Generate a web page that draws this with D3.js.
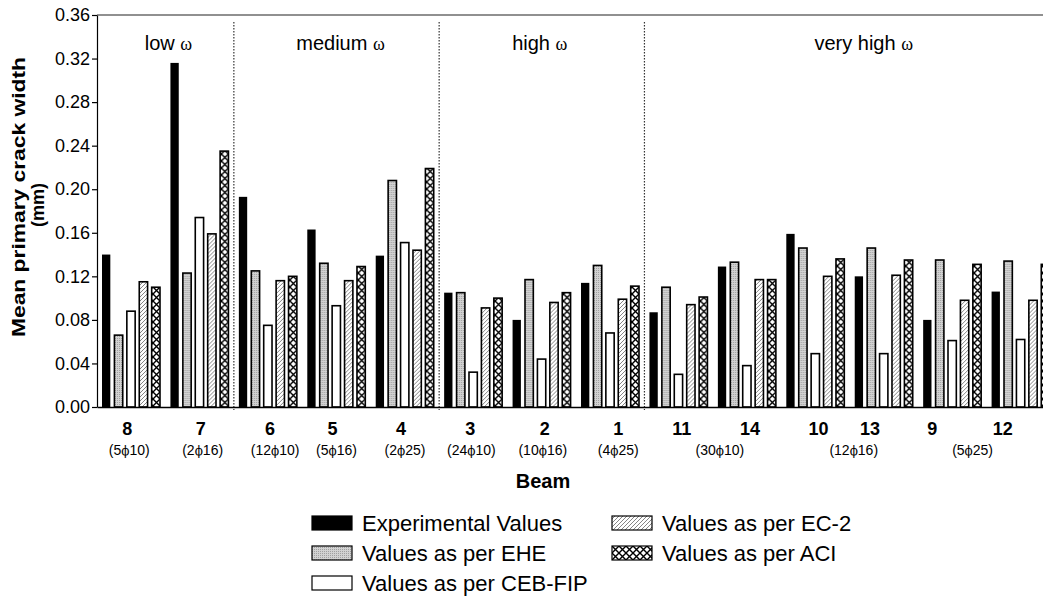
<!DOCTYPE html>
<html>
<head>
<meta charset="utf-8">
<script src="https://cdn.jsdelivr.net/npm/d3@7"></script>
<style>
  body { margin: 0; background: #fff; }
  svg { display: block; font-family: "Liberation Sans", Arial, sans-serif; }
</style>
</head>
<body>
<div id="chart"></div>
<script>
// beams in the order they appear on the axis
var beams = ["8", "7", "6", "5", "4", "3", "2", "1", "11", "14", "10", "13", "9", "12"];

// mean primary crack width (mm)
var experimental = [0.140, 0.316, 0.193, 0.163, 0.139, 0.105, 0.080, 0.114, 0.087, 0.129, 0.159, 0.120, 0.080, 0.106];
var ehe          = [0.066, 0.123, 0.125, 0.132, 0.208, 0.105, 0.117, 0.130, 0.110, 0.133, 0.146, 0.146, 0.135, 0.134];
var cebfip       = [0.088, 0.174, 0.075, 0.093, 0.151, 0.032, 0.044, 0.068, 0.030, 0.038, 0.049, 0.049, 0.061, 0.062];
var ec2          = [0.115, 0.159, 0.116, 0.116, 0.144, 0.091, 0.096, 0.099, 0.094, 0.117, 0.120, 0.121, 0.098, 0.098];
var aci          = [0.110, 0.235, 0.120, 0.129, 0.219, 0.100, 0.105, 0.111, 0.101, 0.117, 0.136, 0.135, 0.131, 0.131];

var seriesNames = ["Experimental Values", "Values as per EHE", "Values as per CEB-FIP", "Values as per EC-2", "Values as per ACI"];

// reinforcement ratio groups (first/last beam index)
var omegaLabels = ["low ", "medium ", "high ", "very high "];
var omegaSpans = [[0, 1], [2, 4], [5, 7], [8, 13]];

// bar arrangement under the beam numbers
var rebarLabels = ["(5\u03D510)", "(2\u03D516)", "(12\u03D510)", "(5\u03D516)", "(2\u03D525)", "(24\u03D510)", "(10\u03D516)", "(4\u03D525)", "(30\u03D510)", "(12\u03D516)", "(5\u03D525)"];
var rebarSpans = [[0, 0], [1, 1], [2, 2], [3, 3], [4, 4], [5, 5], [6, 6], [7, 7], [8, 9], [10, 11], [12, 13]];

var yTicks = [0, 0.04, 0.08, 0.12, 0.16, 0.20, 0.24, 0.28, 0.32, 0.36];

// small nudges so the labels sit where the original puts them
var beamDx = [-2, 3, 4, -2, -2, -1, 5, 10, 5, 5, 5, -12, -18, -16];
var rebarDx = [0, 5, 9, 2, 2, 0, 3, 10, 9, 6, -12];
var omegaDx = [3, 4, -2, 14];

var W = 1043, H = 612;
var plotLeft = 97, plotTop = 15, plotBottom = 407;
var step = 68.43;

var svg = d3.select("#chart").append("svg")
    .attr("width", W).attr("height", H);

var defs = svg.append("defs");

// EC-2: thin diagonal hatch
var p1 = defs.append("pattern").attr("id", "hatch")
    .attr("patternUnits", "userSpaceOnUse").attr("width", 4).attr("height", 4);
p1.append("rect").attr("width", 4).attr("height", 4).attr("fill", "#fff");
p1.append("path").attr("d", "M-1,5 L5,-1 M-1,1 L1,-1 M3,5 L5,3")
    .attr("stroke", "#666").attr("stroke-width", 0.8);

// ACI: cross hatch
var p2 = defs.append("pattern").attr("id", "cross")
    .attr("patternUnits", "userSpaceOnUse").attr("width", 7).attr("height", 7);
p2.append("rect").attr("width", 7).attr("height", 7).attr("fill", "#fff");
p2.append("path").attr("d", "M0,0 L7,7 M7,0 L0,7")
    .attr("stroke", "#000").attr("stroke-width", 1.4);

// EHE: stippled grey
var p3 = defs.append("pattern").attr("id", "stip")
    .attr("patternUnits", "userSpaceOnUse").attr("width", 2).attr("height", 2);
p3.append("rect").attr("width", 2).attr("height", 2).attr("fill", "#d2d2d2");
p3.append("rect").attr("width", 1).attr("height", 1).attr("fill", "#a0a0a0");

var fills = ["#000", "url(#stip)", "#fff", "url(#hatch)", "url(#cross)"];

var x = d3.scaleBand()
    .domain(d3.range(beams.length))
    .range([plotLeft, plotLeft + step * beams.length])
    .padding(0);

var xs = d3.scaleBand()
    .domain(d3.range(5))
    .range([5, 63])
    .paddingInner(0.33)
    .paddingOuter(0);

var y = d3.scaleLinear().domain([0, 0.36]).range([plotBottom, plotTop]);

var table = beams.map(function (b, i) {
    return [experimental[i], ehe[i], cebfip[i], ec2[i], aci[i]].map(function (v, k) {
        return {beam: i, k: k, v: v};
    });
});

// top frame line
svg.append("line")
    .attr("x1", plotLeft).attr("x2", W).attr("y1", plotTop).attr("y2", plotTop)
    .attr("stroke", "#222").attr("stroke-width", 1.2);

// group separators
var seps = omegaSpans.slice(0, 3).map(function (s) { return s[1] + 1; });
svg.selectAll(".sep").data(seps).enter().append("line")
    .attr("class", "sep")
    .attr("x1", function (d) { return x(d); })
    .attr("x2", function (d) { return x(d); })
    .attr("y1", plotTop + 7).attr("y2", plotBottom + 3)
    .attr("stroke", "#333").attr("stroke-width", 1.2)
    .attr("stroke-dasharray", "1.5,1.5");

// bars
var g = svg.selectAll(".beam").data(table).enter().append("g")
    .attr("class", "beam")
    .attr("transform", function (d, i) { return "translate(" + x(i) + ",0)"; });

g.selectAll("rect").data(function (d) { return d; }).enter().append("rect")
    .attr("x", function (d) { return xs(d.k); })
    .attr("y", function (d) { return y(d.v); })
    .attr("width", xs.bandwidth())
    .attr("height", function (d) { return plotBottom - y(d.v); })
    .attr("fill", function (d) { return fills[d.k]; })
    .attr("stroke", "#000")
    .attr("stroke-width", function (d) { return d.k == 0 ? 0 : 1.6; });

// y axis
svg.append("g")
    .attr("transform", "translate(" + plotLeft + ",0)")
    .call(d3.axisLeft(y).tickValues(yTicks).tickFormat(d3.format(".2f"))
        .tickSize(5).tickSizeOuter(0).tickPadding(2))
    .call(function (a) {
        a.selectAll("text").attr("font-size", 18).attr("fill", "#000")
            .attr("font-family", "Liberation Sans, Arial, sans-serif");
        a.selectAll("line,path").attr("stroke", "#000").attr("stroke-width", 1.2);
    });

// x axis line
svg.append("g")
    .attr("transform", "translate(0," + plotBottom + ")")
    .call(d3.axisBottom(x).tickSize(0).tickSizeOuter(0).tickFormat(""))
    .call(function (a) {
        a.select(".domain").attr("stroke", "#000").attr("stroke-width", 1.4);
    });

// beam numbers
svg.selectAll(".blab").data(beams).enter().append("text")
    .attr("class", "blab")
    .attr("x", function (d, i) { return x(i) + x.bandwidth() / 2 - 2 + beamDx[i]; })
    .attr("y", 435)
    .attr("text-anchor", "middle")
    .attr("font-size", 18).attr("font-weight", "bold")
    .text(function (d) { return d; });

// rebar labels
var rl = svg.selectAll(".rlab").data(rebarLabels).enter().append("text")
    .attr("class", "rlab")
    .attr("x", function (d, i) {
        var s = rebarSpans[i];
        return (x(s[0]) + x(s[1]) + x.bandwidth()) / 2 - 2 + rebarDx[i];
    })
    .attr("y", 455)
    .attr("text-anchor", "middle")
    .attr("font-size", 14);
rl.each(function (d) {
    var t = d3.select(this);
    var i = d.indexOf("\u03D5");
    t.append("tspan").text(d.slice(0, i));
    t.append("tspan").attr("font-family", "DejaVu Serif, serif").attr("font-size", 12).text("\u03D5");
    t.append("tspan").text(d.slice(i + 1));
});

// omega group titles
var ol = svg.selectAll(".olab").data(omegaLabels).enter().append("text")
    .attr("class", "olab")
    .attr("x", function (d, i) {
        var s = omegaSpans[i];
        return (x(s[0]) + x(s[1]) + x.bandwidth()) / 2 + omegaDx[i];
    })
    .attr("y", 50)
    .attr("text-anchor", "middle")
    .attr("font-size", 20);
ol.append("tspan").text(function (d) { return d; });
ol.append("tspan").attr("font-family", "Liberation Serif, Times New Roman, serif")
    .attr("font-size", 18).text("\u03C9");

// axis titles
svg.append("text")
    .attr("transform", "translate(25,197) rotate(-90)")
    .attr("text-anchor", "middle")
    .attr("font-size", 18).attr("font-weight", "bold")
    .attr("textLength", 280).attr("lengthAdjust", "spacingAndGlyphs")
    .text("Mean primary crack width");
svg.append("text")
    .attr("transform", "translate(44,205) rotate(-90)")
    .attr("text-anchor", "middle")
    .attr("font-size", 18).attr("font-weight", "bold")
    .text("(mm)");

svg.append("text")
    .attr("x", 543).attr("y", 488)
    .attr("text-anchor", "middle")
    .attr("font-size", 20).attr("font-weight", "bold")
    .text("Beam");

// legend
var legPos = [[312, 523], [312, 553], [312, 583], [612, 523], [612, 553]];
var leg = svg.selectAll(".leg").data(seriesNames).enter().append("g")
    .attr("class", "leg")
    .attr("transform", function (d, i) { return "translate(" + legPos[i][0] + "," + legPos[i][1] + ")"; });
leg.append("rect")
    .attr("x", 0).attr("y", -7).attr("width", 40).attr("height", 14)
    .attr("fill", function (d, i) { return fills[i]; })
    .attr("stroke", "#000").attr("stroke-width", 1.2);
leg.append("text")
    .attr("x", 50).attr("y", 8)
    .attr("font-size", 22)
    .text(function (d) { return d; });
</script>
</body>
</html>
